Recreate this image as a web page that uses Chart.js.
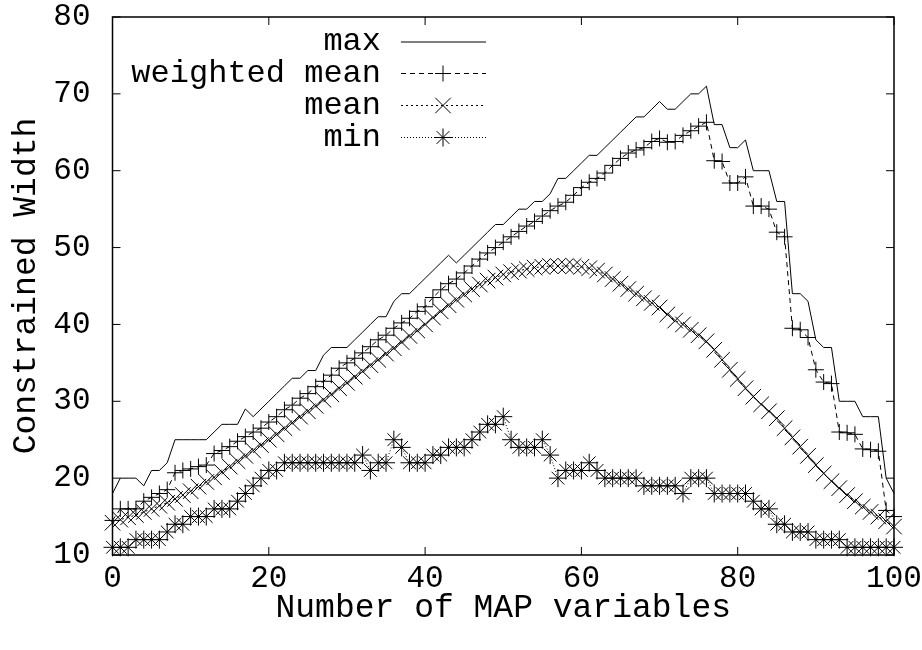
<!DOCTYPE html>
<html>
<head>
<meta charset="utf-8">
<script src="https://cdn.jsdelivr.net/npm/chart.js@4.4.1/dist/chart.umd.min.js"></script>
<style>
  html, body { margin: 0; padding: 0; background: #fff; }
  #plot { display: block; }
</style>
</head>
<body>
<canvas id="plot" width="922" height="650"></canvas>
<script>
const mapVars = [
  0, 1, 2, 3, 4, 5, 6, 7, 8, 9, 10, 11, 12, 13, 14, 15, 16, 17, 18, 19,
  20, 21, 22, 23, 24, 25, 26, 27, 28, 29, 30, 31, 32, 33, 34, 35, 36, 37, 38, 39,
  40, 41, 42, 43, 44, 45, 46, 47, 48, 49, 50, 51, 52, 53, 54, 55, 56, 57, 58, 59,
  60, 61, 62, 63, 64, 65, 66, 67, 68, 69, 70, 71, 72, 73, 74, 75, 76, 77, 78, 79,
  80, 81, 82, 83, 84, 85, 86, 87, 88, 89, 90, 91, 92, 93, 94, 95, 96, 97, 98, 99,
  100,
];

const maxWidth = [
  18, 20, 20, 20, 19, 21, 21, 22, 25, 25, 25, 25, 25, 26, 27, 27, 27, 29, 28, 29,
  30, 31, 32, 33, 33, 34, 34, 36, 37, 37, 37, 38, 39, 40, 41, 41, 43, 44, 44, 45,
  46, 47, 48, 49, 48, 49, 50, 51, 52, 53, 53, 54, 55, 55, 56, 56, 57, 59, 59, 60,
  61, 62, 62, 63, 64, 65, 66, 67, 67, 68, 69, 68, 68, 69, 70, 70, 71, 66, 66, 63,
  63, 64, 60, 60, 60, 56, 56, 44, 44, 43, 38, 37, 37, 30, 30, 30, 28, 28, 28, 20,
  18,
];

const weightedMean = [
  14.5, 16, 16, 16, 17, 17.5, 18, 18.5, 20.7, 21, 21.2, 21.5, 21.7, 23.2, 23.6, 24.1, 24.8, 25.4, 26, 26.5,
  27.3, 28, 28.9, 29.5, 30.4, 31, 31.9, 32.6, 33.4, 34.3, 35, 35.6, 36.3, 37.1, 38, 38.6, 39.5, 40.2, 40.8, 41.7,
  42.3, 43.5, 44.5, 45.3, 45.9, 46.7, 47.6, 48.5, 49.3, 50, 50.7, 51.4, 52.1, 52.8, 53.4, 54.1, 54.8, 55.4, 55.9, 56.8,
  57.8, 58.5, 59, 59.7, 60.7, 61.6, 62.3, 62.7, 63, 63.8, 64.2, 63.7, 63.8, 64.6, 65.2, 65.8, 66.3, 61.3, 61.2, 58.4,
  58.4, 59.2, 55.4, 55.4, 55, 52, 51.4, 39.5, 39.3, 38.3, 34.1, 32.5, 32.3, 26, 25.9, 25.7, 23.8, 23.7, 23.5, 15.8,
  15,
];

const meanWidth = [
  14.2, 14.6, 14.9, 15.2, 15.6, 16.0, 16.4, 16.8, 17.3, 17.8, 18.3, 18.9, 19.5, 20.1, 20.8, 21.5, 22.2, 22.9, 23.6, 24.3,
  25.0, 25.7, 26.5, 27.2, 28.0, 28.7, 29.4, 30.2, 30.9, 31.7, 32.4, 33.2, 33.9, 34.7, 35.4, 36.2, 36.9, 37.7, 38.5, 39.2,
  40.0, 40.9, 41.7, 42.5, 43.2, 43.9, 44.6, 45.2, 45.7, 46.1, 46.5, 46.8, 47.0, 47.2, 47.4, 47.5, 47.6, 47.6, 47.6, 47.6,
  47.5, 47.3, 47.0, 46.5, 45.9, 45.3, 44.6, 44.0, 43.4, 42.8, 42.2, 41.3, 40.5, 40.0, 39.3, 38.6, 37.8, 36.7, 35.4, 34.1,
  32.9, 31.7, 30.6, 29.6, 28.7, 27.8, 26.5, 25.3, 24.1, 22.9, 21.7, 20.6, 19.6, 18.7, 17.8, 17.0, 16.3, 15.6, 15.0, 14.4,
  13.7,
];

const minWidth = [
  11, 11, 11, 12, 12, 12, 12, 13, 14, 14, 15, 15, 15, 16, 16, 16, 17, 18, 19, 20,
  21, 21, 22, 22, 22, 22, 22, 22, 22, 22, 22, 22, 23, 21, 22, 22, 25, 24, 22, 22,
  22, 23, 23, 24, 24, 24, 25, 26, 27, 27, 28, 25, 24, 24, 24, 25, 23, 20, 21, 21,
  21, 22, 21, 20, 20, 20, 20, 20, 19, 19, 19, 19, 19, 18, 20, 20, 20, 18, 18, 18,
  18, 18, 17, 16, 16, 14, 14, 13, 13, 13, 12, 12, 12, 12, 11, 11, 11, 11, 11, 11,
  11,
];

const xTicks = [0, 20, 40, 60, 80, 100];
const yTicks = [10, 20, 30, 40, 50, 60, 70, 80];

const FAMILY = "'Liberation Mono', 'DejaVu Sans Mono', monospace";
const TICK_FONT  = { family: FAMILY, size: 31 };
const TITLE_FONT = { family: FAMILY, size: 33 };
const KEY_SIZE = 32;

function series(values) {
  return values.map((v, i) => ({ x: mapVars[i], y: v }));
}

function makeDataset(label, values, dash, pointStyle, radius) {
  return {
    label,
    data: series(values),
    borderColor: "#000",
    borderWidth: 1,
    borderDash: dash,
    pointStyle: pointStyle || false,
    pointRadius: pointStyle ? radius : 0,
    pointBorderColor: "#000",
    pointBorderWidth: 1,
    tension: 0,
    fill: false,
    clip: false,
  };
}

// gnuplot-like box with inward ticks on all four sides
const framePlugin = {
  id: "frame",
  afterDatasetsDraw(chart) {
    const { ctx, chartArea: a, scales: { x, y } } = chart;
    ctx.save();
    ctx.strokeStyle = "#000";
    ctx.lineWidth = 1.5;
    ctx.setLineDash([]);
    ctx.strokeRect(a.left, a.top, a.right - a.left, a.bottom - a.top);
    ctx.lineWidth = 1;
    ctx.beginPath();
    xTicks.forEach(v => {
      const px = x.getPixelForValue(v);
      ctx.moveTo(px, a.bottom); ctx.lineTo(px, a.bottom - 8);
      ctx.moveTo(px, a.top);    ctx.lineTo(px, a.top + 8);
    });
    yTicks.forEach(v => {
      const py = y.getPixelForValue(v);
      ctx.moveTo(a.left, py);  ctx.lineTo(a.left + 8, py);
      ctx.moveTo(a.right, py); ctx.lineTo(a.right - 8, py);
    });
    ctx.stroke();
    ctx.restore();
  },
};

// key in the upper left: right-aligned label, then line sample with a marker
const keyPlugin = {
  id: "key",
  afterDatasetsDraw(chart) {
    const ctx = chart.ctx;
    const rows = [42, 73.5, 105.5, 137.5];
    ctx.save();
    ctx.font = `${KEY_SIZE}px ${FAMILY}`;
    ctx.fillStyle = "#000";
    ctx.textAlign = "right";
    ctx.textBaseline = "middle";
    chart.data.datasets.forEach((ds, i) => {
      const yy = rows[i];
      ctx.setLineDash([]);
      ctx.fillText(ds.label, 381, yy);
      ctx.strokeStyle = "#000";
      ctx.lineWidth = 1;
      ctx.setLineDash(ds.borderDash || []);
      ctx.beginPath();
      ctx.moveTo(401, yy);
      ctx.lineTo(486, yy);
      ctx.stroke();
      ctx.setLineDash([]);
      if (ds.pointStyle) {
        Chart.helpers.drawPoint(ctx, { pointStyle: ds.pointStyle, radius: ds.pointRadius, borderWidth: 1, rotation: 0 }, 443, yy);
      }
    });
    ctx.restore();
  },
};

new Chart(document.getElementById("plot"), {
  type: "line",
  data: {
    datasets: [
      makeDataset("max",           maxWidth,     [],     null, 0),
      makeDataset("weighted mean", weightedMean, [5, 4], "cross", 8),
      makeDataset("mean",          meanWidth,    [2, 3], "crossRot", 11),
      makeDataset("min",           minWidth,     [1, 2], "star", 9),
    ],
  },
  options: {
    responsive: false,
    animation: false,
    events: [],
    layout: { padding: { left: 0, right: 0, top: 0, bottom: 0 } },
    plugins: { legend: { display: false }, tooltip: { enabled: false } },
    scales: {
      x: {
        type: "linear",
        min: 0,
        max: 100,
        afterBuildTicks: s => { s.ticks = xTicks.map(v => ({ value: v })); },
        afterFit: s => { s.height = 95; s.paddingRight = 28; s.paddingLeft = 0; },
        ticks: { color: "#000", font: TICK_FONT, padding: 5, maxRotation: 0, autoSkip: false },
        grid: { display: false, drawTicks: false },
        border: { display: false },
        title: { display: true, text: "Number of MAP variables", color: "#000", font: TITLE_FONT, padding: { top: 0, bottom: 22 } },
      },
      y: {
        type: "linear",
        min: 10,
        max: 80,
        afterBuildTicks: s => { s.ticks = yTicks.map(v => ({ value: v })); },
        afterFit: s => { s.width = 112.5; s.paddingTop = 17; s.paddingBottom = 0; },
        ticks: { color: "#000", font: TICK_FONT, padding: 22, autoSkip: false },
        grid: { display: false, drawTicks: false },
        border: { display: false },
        title: { display: true, text: "Constrained Width", color: "#000", font: TITLE_FONT, padding: { top: 6, bottom: 0 } },
      },
    },
  },
  plugins: [framePlugin, keyPlugin],
});
</script>
</body>
</html>
